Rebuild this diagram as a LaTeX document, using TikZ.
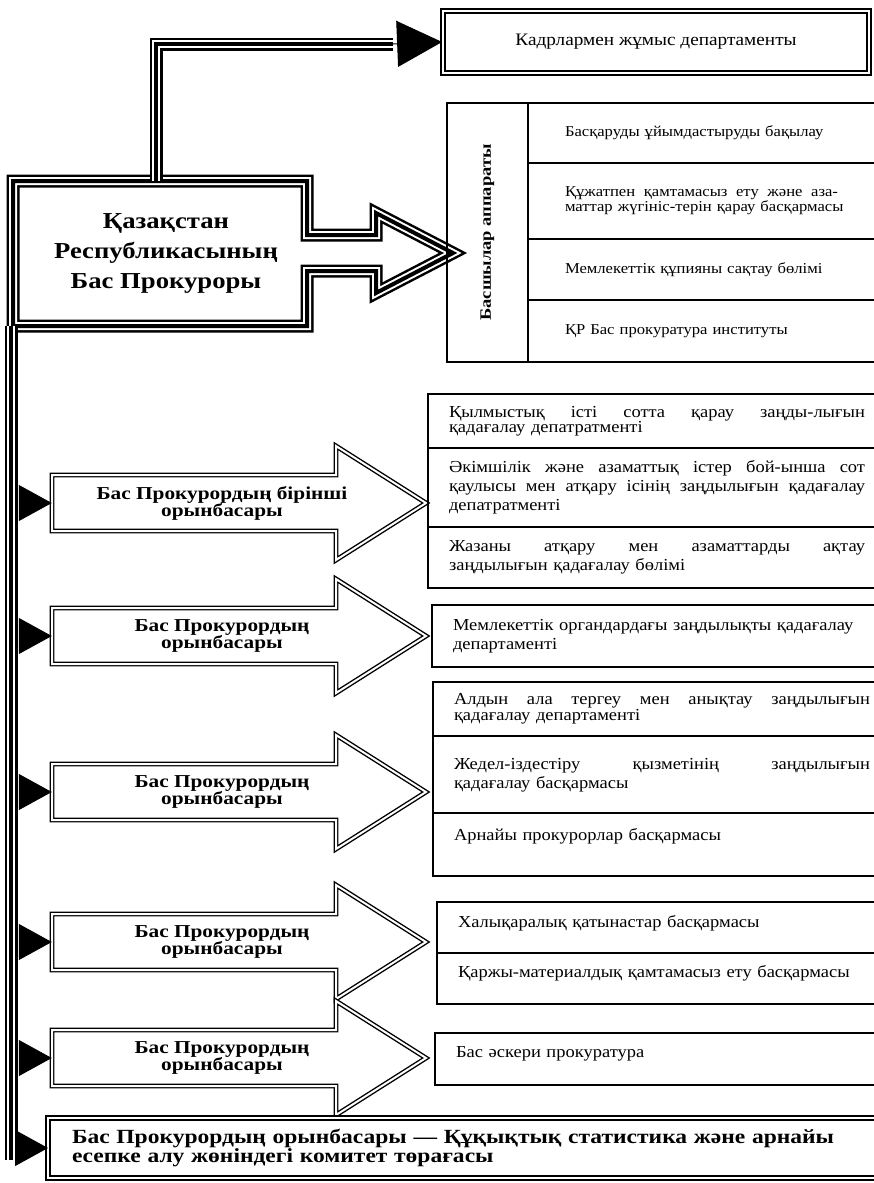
\documentclass[tikz,border=0pt]{standalone}
\usepackage{fontspec}
\setmainfont{Liberation Serif}[FakeStretch=1.1, BoldFeatures={FakeStretch=1.17}]
\usetikzlibrary{arrows.meta}

\begin{document}
\begin{tikzpicture}[x=1pt, y=-1pt,
		tripleline/.style={draw, line width=13pt, line join=miter,
			postaction={draw=white, line width=8pt},
			postaction={draw=black, line width=4pt}},
		hollow/.style={draw, double, line width=1.4pt, double distance=2pt, line join=miter},
		twoline/.style={draw, double, line width=1.8pt, double distance=2pt},
		branch/.style={-{Triangle[length=33pt, width=36pt]}, line width=1pt},
		cell/.style={draw, line width=1.4pt, anchor=north west, outer sep=0pt,
			inner xsep=21pt, inner ysep=0pt, text width=416pt, align=left,
			font=\fontsize{16.8}{19}\selectfont},
		tight/.style={font=\fontsize{16.8}{15.5}\selectfont},
		lift/.style={text depth=#1},
		appcell/.style={cell, line width=2pt, inner xsep=37pt, text width=300pt,
			font=\fontsize{15.1}{14}\selectfont},
		deptext/.style={minimum width=340pt, align=center,
			font=\fontsize{18.2}{17}\selectfont\bfseries}]
			\useasboundingbox (0,0) rectangle (874,1183);
			\fill[white] (0,0) rectangle (874,1183);

			\coordinate (bend) at (156,44);
			\coordinate (kadrbase) at (393,44);
			\coordinate (trunk) at (11,1160);
			\coordinate (trunkedge) at (19,0);

			\node[minimum width=294pt, minimum height=145pt, align=center,
				font=\fontsize{22.8}{30}\selectfont\bfseries] (chief) at (166,253.5)
				{Қазақстан\\Республикасының\\Бас Прокуроры};
			\draw[tripleline] (13,181) -- (307,181) -- (307,235) -- (376,235) -- (376,213)
				-- (453,253) -- (376,293) -- (376,271) -- (307,271) -- (307,326) -- (13,326) -- cycle;

			\node[twoline, minimum width=426pt, minimum height=62pt,
				font=\fontsize{17.5}{17}\selectfont] (kadr) at (656,42) {Кадрлармен жұмыс департаменты};
			\draw[tripleline] (chief.north -| bend) -- (bend) -- (kadrbase);
			\draw[-{Triangle[length=45pt, width=46pt]}, line width=1pt] (kadrbase) -- (kadr.west);

			\node[draw, line width=2.5pt, anchor=north west, outer sep=0pt,
				minimum width=81pt, minimum height=259pt] (appcol) at (447,103) {};
			\node[rotate=90, font=\fontsize{15.8}{15}\selectfont\bfseries] (apptitle) at (appcol.center)
				{Басшылар аппараты};
			\node[appcell, minimum height=60pt] (app1) at (appcol.north east)
				{Басқаруды ұйымдастыруды бақылау};
			\node[appcell, minimum height=76pt] (app2) at (app1.south west)
				{\makebox[273pt][s]{Құжатпен\hfill қамтамасыз\hfill ету\hfill және\hfill аза-}\\маттар жүгініс-терін қарау басқармасы};
			\node[appcell, minimum height=61pt] (app3) at (app2.south west)
				{Мемлекеттік құпияны сақтау бөлімі};
			\node[appcell, minimum height=62pt] (app4) at (app3.south west)
				{ҚР Бас прокуратура институты};

			\draw[tripleline] (chief.south -| trunk) -- (trunk);

			\foreach \y/\txt [count=\i] in {503/{Бас Прокурордың бірінші\\орынбасары},
					636/{Бас Прокурордың\\орынбасары}, 792/{Бас Прокурордың\\орынбасары},
					942/{Бас Прокурордың\\орынбасары}, 1058/{Бас Прокурордың\\орынбасары}} {
				\draw[hollow] (52,\y-28) -- (336,\y-28) -- (336,\y-57) -- (426,\y)
					-- (336,\y+57) -- (336,\y+28) -- (52,\y+28) -- cycle;
				\node[deptext] (dep\i) at (222,\y) {\txt};
				\draw[branch] (dep\i.west -| trunkedge) -- (dep\i.west);
			}

			\node[cell, tight, minimum height=54pt] (sot1) at (428,394)
				{\makebox[416pt][s]{Қылмыстық\hfill істі\hfill сотта\hfill қарау\hfill заңды-лығын}\\қадағалау депатратменті};
			\node[cell, minimum height=79pt] (sot2) at (sot1.south west)
				{\makebox[416pt][s]{Әкімшілік\hfill және\hfill азаматтық\hfill істер\hfill бой-ынша\hfill сот}\\\makebox[416pt][s]{қаулысы\hfill мен\hfill атқару\hfill ісінің\hfill заңдылығын\hfill қадағалау}\\депатратменті};
			\node[cell, line width=2.5pt, minimum height=61pt] (sot3) at (sot2.south west)
				{\makebox[416pt][s]{Жазаны\hfill атқару\hfill мен\hfill азаматтарды\hfill ақтау}\\заңдылығын қадағалау бөлімі};

			\node[cell, minimum height=62pt] (organ) at (432,605)
				{Мемлекеттік органдардағы заңдылықты қадағалау\\департаменті};

			\node[cell, tight, minimum height=54pt] (tergeu1) at (433,682)
				{\makebox[416pt][s]{Алдын\hfill ала\hfill тергеу\hfill мен\hfill анықтау\hfill заңдылығын}\\қадағалау департаменті};
			\node[cell, lift=22pt, minimum height=77pt] (tergeu2) at (tergeu1.south west)
				{\makebox[416pt][s]{Жедел-іздестіру\hfill қызметінің\hfill заңдылығын}\\қадағалау басқармасы};
			\node[cell, lift=20pt, line width=2.5pt, minimum height=63pt] (tergeu3) at (tergeu2.south west)
				{Арнайы прокурорлар басқармасы};

			\node[cell, lift=13pt, minimum height=51pt] (khal1) at (437,902)
				{Халықаралық қатынастар басқармасы};
			\node[cell, lift=14pt, minimum height=51pt] (khal2) at (khal1.south west)
				{Қаржы-материалдық қамтамасыз ету басқармасы};

			\node[cell, lift=14pt, minimum height=52pt] (askeri) at (435,1033)
				{Бас әскери прокуратура};

			\node[twoline, anchor=north west, outer sep=0pt, minimum width=840pt, minimum height=60pt,
				inner xsep=24pt, text width=792pt, align=left,
				font=\fontsize{20.1}{15}\selectfont\bfseries] (stat) at (48,1118)
				{Бас Прокурордың орынбасары — Құқықтық статистика және арнайы\\есепке алу жөніндегі комитет төрағасы};
			\draw[branch] (stat.west -| trunkedge) -- (stat.west);
		\end{tikzpicture}
\end{document}
